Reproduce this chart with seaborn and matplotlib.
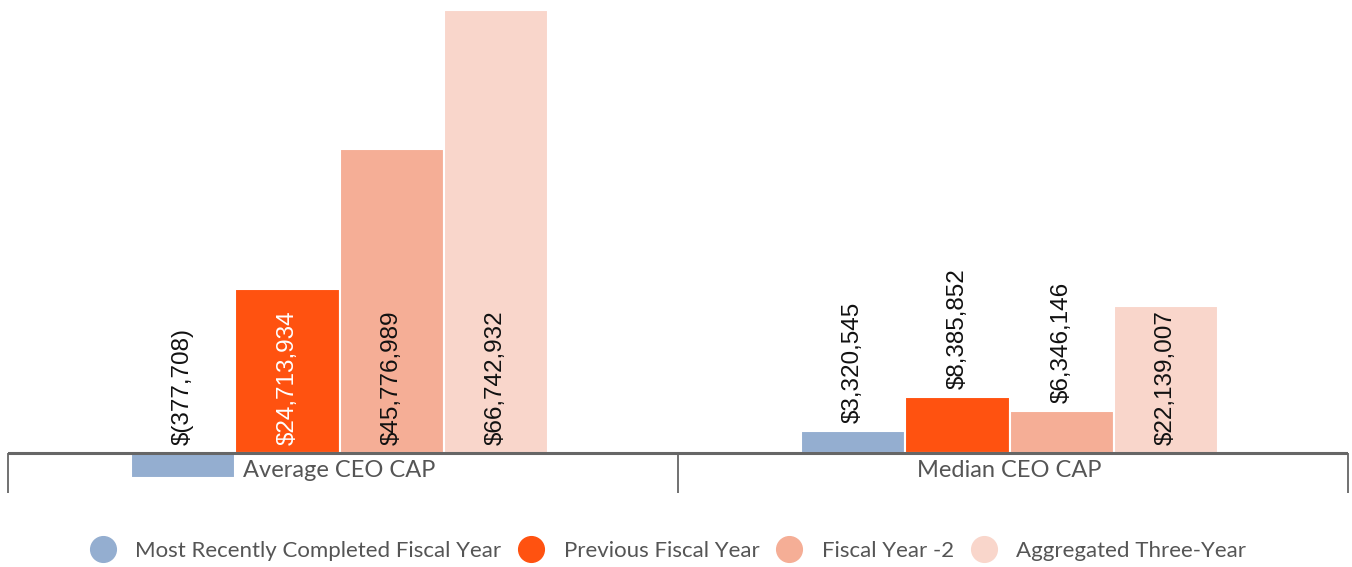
import numpy as np
import pandas as pd
import matplotlib
matplotlib.use("Agg")
import matplotlib.pyplot as plt
from matplotlib.lines import Line2D
import seaborn as sns

categories = ["Average CEO CAP", "Median CEO CAP"]
series = ["Most Recently Completed Fiscal Year", "Previous Fiscal Year",
          "Fiscal Year -2", "Aggregated Three-Year"]
recent = [-377708, 3320545]
previous = [24713934, 8385852]
fy_minus2 = [45776989, 6346146]
aggregated = [66742932, 22139007]
colors = ["#94AED0", "#FF5210", "#F5AE96", "#F9D6CB"]

values = [recent, previous, fy_minus2, aggregated]

W, H = 1352, 567
DPI = 100
PX = 66742932 / 443.0          # data units per pixel
MIN_BAR = 25 * PX               # minimum drawn bar length (min point length)

rows = []
for s, vals in zip(series, values):
    for c, v in zip(categories, vals):
        shown = np.sign(v) * max(abs(v), MIN_BAR) if v < 0 else v
        rows.append({"category": c, "series": s, "value": v, "shown": shown})
df = pd.DataFrame(rows)

sns.set_theme(style="white")
fig = plt.figure(figsize=(W / DPI, H / DPI), dpi=DPI)
ax = fig.add_axes([8 / W, (H - 493) / H, 1340 / W, 483 / H])

sns.barplot(data=df, x="category", y="shown", hue="series", order=categories,
            hue_order=series, palette=colors, width=0.623, gap=0.0,
            edgecolor="white", linewidth=1.5, saturation=1, legend=False, ax=ax)

shift = 0.0052
lo, hi = -0.5 + shift, 1.5 + shift
ax.set_xlim(lo, hi)
ax.set_ylim(-40 * PX, 66742932)
for sp in ax.spines.values():
    sp.set_visible(False)
ax.set_xticks([])
ax.set_yticks([])
ax.set_xlabel("")
ax.set_ylabel("")

# axis line and tick marks at category boundaries
ax.axhline(0, color="#666666", lw=2.2, zorder=3)
ax.vlines([lo, (lo + hi) / 2, hi], -40 * PX, 0, color="#666666", lw=1.3,
          zorder=3, clip_on=False)

label_font = ["Liberation Sans", "DejaVu Sans"]
cat_font = ["Lato", "DejaVu Sans"]

def fmt(v):
    if v < 0:
        return "$({:,})".format(-v)
    return "${:,}".format(v)

for si, cont in enumerate(ax.containers):
    for ci, bar in enumerate(cont):
        v = values[si][ci]
        xc = bar.get_x() + bar.get_width() / 2
        if v > 20e6:
            y = 0
            col = "white" if si == 1 else "#111111"
        else:
            y = max(v, 0)
            col = "#111111"
        ax.annotate(fmt(v), xy=(xc, y), xytext=(0, 5.8), textcoords="offset points",
                    rotation=90, ha="center", va="bottom", fontsize=17.5,
                    family=label_font, color=col, zorder=5)

for i, c in enumerate(categories):
    ax.annotate(c, xy=((lo + hi) / 2 - 0.5 + i, 0), xytext=(-2.5, -12.8),
                textcoords="offset points", ha="center", va="center",
                fontsize=17, family=cat_font, color="#555555", zorder=6)

handles = [Line2D([0], [0], marker="o", linestyle="none", markersize=18.5,
                  markerfacecolor=c, markeredgecolor=c) for c in colors]
fig.legend(handles, series, loc="center", bbox_to_anchor=(0.494, (H - 551) / H),
           ncol=4, frameon=False, prop={"family": cat_font, "size": 16},
           labelcolor="#555555", handletextpad=0.85, columnspacing=0.75,
           handlelength=1.2)

fig.savefig("out.png", dpi=DPI)
